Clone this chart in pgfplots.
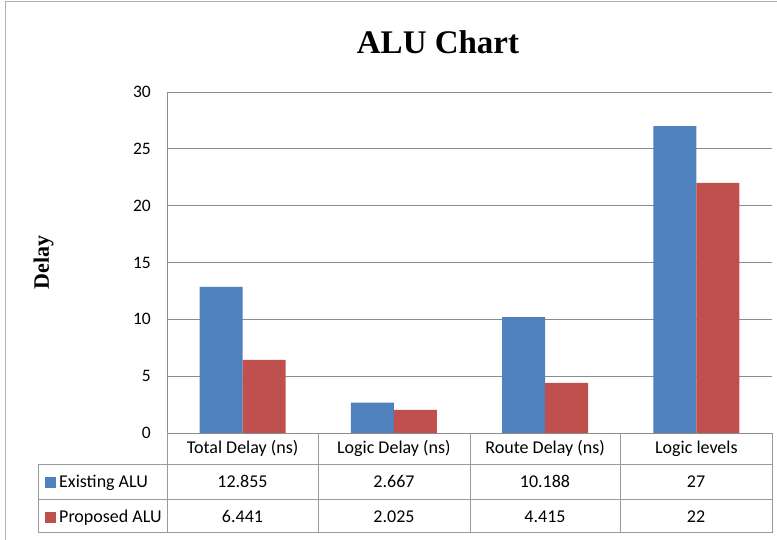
\documentclass[border=0pt]{standalone}
\usepackage{pgfplots}
\pgfplotsset{compat=1.18}
\usepackage{fontspec}
\setmainfont{Carlito}
\newfontfamily\timesf{Liberation Serif}
\definecolor{exblue}{HTML}{4F81BD}
\definecolor{prred}{HTML}{C0504D}
\definecolor{gridgray}{HTML}{8C8C8C}
\definecolor{tabgray}{HTML}{9A9A9A}
\begin{document}
\begin{tikzpicture}[x=1bp,y=1bp]
\useasboundingbox (0,0) rectangle (777,540);
% outer frame
\draw[gray!60, line width=1bp] (5,0) -- (5,538) -- (777,538);
\begin{axis}[
  at={(167bp,107bp)}, anchor=south west,
  scale only axis, width=605bp, height=341bp,
  xmin=-0.5, xmax=3.5, ymin=0, ymax=30,
  ybar=0pt, bar width=43bp,
  xtick=data,
  xticklabels={Total Delay (ns), Logic Delay (ns), Route Delay (ns), Logic levels},
  ytick={0,5,...,30},
  axis x line*=bottom, axis y line*=left,
  axis line style={draw=gridgray, line width=0.8bp, -},
  ymajorgrids, grid style={draw=gridgray, line width=0.8bp},
  major tick length=0pt,
  /pgf/number format/assume math mode=true,
  tick label style={font=\fontsize{17.5bp}{20bp}\selectfont, text=black},
  xticklabel style={anchor=base, yshift=-21bp, inner sep=0pt, font=\fontsize{18bp}{20bp}\selectfont},
  yticklabel style={inner sep=0pt, xshift=-16bp},
  title={ALU Chart},
  title style={font=\timesf\bfseries\fontsize{33bp}{36bp}\selectfont, at={(axis description cs:0.448,1.127)}, anchor=center},
  ylabel={Delay},
  ylabel style={font=\timesf\bfseries\fontsize{22bp}{24bp}\selectfont, at={(axis description cs:-0.204,0.501)}, anchor=center},
  clip=false,
]
\addplot[fill=exblue, draw=none] coordinates {(0,12.855) (1,2.667) (2,10.188) (3,27)};
\addplot[fill=prred, draw=none] coordinates {(0,6.441) (1,2.025) (2,4.415) (3,22)};
\end{axis}
% data table
\draw[tabgray, line width=1bp] (38,75) -- (772,75);
\draw[tabgray, line width=1bp] (38,40) -- (772,40);
\draw[tabgray, line width=1bp] (38,7) -- (772,7);
\draw[tabgray, line width=1bp] (38,75) -- (38,7);
\foreach \xx in {167,318,470,620,772} {\draw[tabgray, line width=1bp] (\xx,107) -- (\xx,7);}
\fill[exblue] (45,52) rectangle (56,63);
\fill[prred] (45,17) rectangle (56,28);
\begin{scope}[every node/.style={font=\fontsize{18bp}{20bp}\selectfont, inner sep=0pt, anchor=base}]
\node[anchor=base west] at (59,52) {Existing ALU};
\node[anchor=base west] at (59,17) {Proposed ALU};
\node at (242.5,52) {12.855};
\node at (394,52) {2.667};
\node at (545,52) {10.188};
\node at (696,52) {27};
\node at (242.5,17) {6.441};
\node at (394,17) {2.025};
\node at (545,17) {4.415};
\node at (696,17) {22};
\end{scope}
\end{tikzpicture}
\end{document}
